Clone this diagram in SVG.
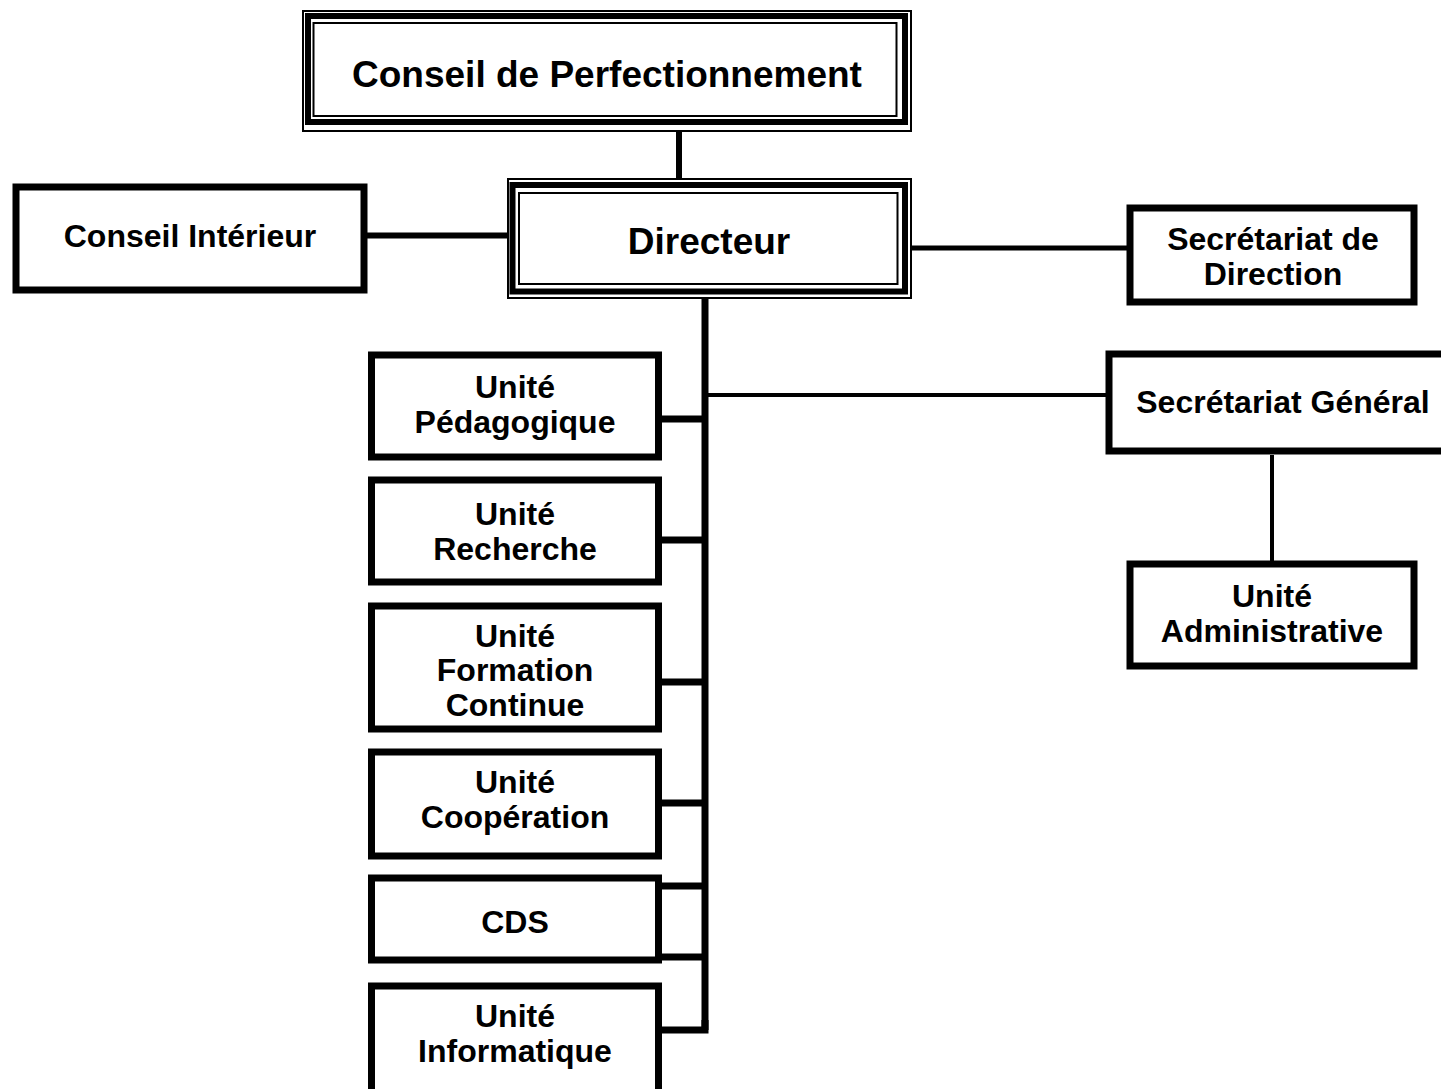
<svg xmlns="http://www.w3.org/2000/svg" width="1441" height="1089" viewBox="0 0 1441 1089">
<style>
text{font-family:"Liberation Sans",Arial,sans-serif;font-weight:bold;fill:#000;text-anchor:middle}
.big{font-size:37px}
.sm{font-size:32px}
.box{fill:#fff;stroke:#000;stroke-width:7}
.thin{fill:none;stroke:#000;stroke-width:2}
.thick{fill:none;stroke:#000;stroke-width:6}
.c{stroke:#000;fill:none;stroke-linecap:butt;stroke-linejoin:miter}
</style>
<rect width="1441" height="1089" fill="#fff"/>
<g id="connectors">
<line class="c" x1="679" y1="131" x2="679" y2="183" stroke-width="6"/>
<line class="c" x1="364" y1="235.5" x2="508" y2="235.5" stroke-width="6"/>
<line class="c" x1="911" y1="248" x2="1130" y2="248" stroke-width="5"/>
<line class="c" x1="705" y1="298" x2="705" y2="1030" stroke-width="7"/>
<line class="c" x1="705" y1="395" x2="1109" y2="395" stroke-width="4"/>
<line class="c" x1="658" y1="419" x2="705" y2="419" stroke-width="7"/>
<line class="c" x1="658" y1="540" x2="705" y2="540" stroke-width="7"/>
<line class="c" x1="658" y1="682" x2="705" y2="682" stroke-width="7"/>
<line class="c" x1="658" y1="803" x2="705" y2="803" stroke-width="7"/>
<line class="c" x1="658" y1="886" x2="705" y2="886" stroke-width="7"/>
<line class="c" x1="658" y1="957" x2="705" y2="957" stroke-width="7"/>
<path class="c" d="M658 1030 H705 V1020" stroke-width="7"/>
<line class="c" x1="1272" y1="455" x2="1272" y2="564" stroke-width="4"/>
</g>
<g id="conseil-perfectionnement">
<rect x="303" y="11" width="608" height="120" fill="#fff" stroke="#000" stroke-width="2"/>
<rect class="thick" x="308" y="16" width="597" height="106"/>
<rect class="thin" x="313.5" y="23" width="583" height="93"/>
<text class="big" x="607" y="87">Conseil de Perfectionnement</text>
</g>
<g id="directeur">
<rect x="508" y="179" width="403" height="119" fill="#fff" stroke="#000" stroke-width="2"/>
<rect class="thick" x="512.5" y="185" width="392.5" height="106.5"/>
<rect class="thin" x="519" y="193" width="378.5" height="91"/>
<text class="big" x="709" y="254">Directeur</text>
</g>
<g id="conseil-interieur">
<rect class="box" x="16" y="187" width="348" height="103" stroke-width="8"/>
<text class="sm" x="190" y="247">Conseil Intérieur</text>
</g>
<g id="secretariat-direction">
<rect class="box" x="1130" y="208" width="284" height="94"/>
<text class="sm" x="1273" y="250">Secrétariat de</text>
<text class="sm" x="1273" y="285">Direction</text>
</g>
<g id="secretariat-general">
<rect class="box" x="1109" y="354" width="348" height="97" stroke-width="8"/>
<text class="sm" x="1283" y="413">Secrétariat Général</text>
</g>
<g id="unite-administrative">
<rect class="box" x="1130" y="564" width="284" height="102"/>
<text class="sm" x="1272" y="607">Unité</text>
<text class="sm" x="1272" y="642">Administrative</text>
</g>
<g id="unite-pedagogique">
<rect class="box" x="371.5" y="355" width="287" height="102"/>
<text class="sm" x="515" y="398">Unité</text>
<text class="sm" x="515" y="433">Pédagogique</text>
</g>
<g id="unite-recherche">
<rect class="box" x="371.5" y="480" width="287" height="102"/>
<text class="sm" x="515" y="525">Unité</text>
<text class="sm" x="515" y="560">Recherche</text>
</g>
<g id="unite-formation-continue">
<rect class="box" x="371.5" y="606" width="287" height="123"/>
<text class="sm" x="515" y="647">Unité</text>
<text class="sm" x="515" y="681">Formation</text>
<text class="sm" x="515" y="716">Continue</text>
</g>
<g id="unite-cooperation">
<rect class="box" x="371.5" y="752" width="287" height="104"/>
<text class="sm" x="515" y="793">Unité</text>
<text class="sm" x="515" y="828">Coopération</text>
</g>
<g id="cds">
<rect class="box" x="371.5" y="878" width="287" height="82"/>
<text class="sm" x="515" y="933">CDS</text>
</g>
<g id="unite-informatique">
<rect class="box" x="371.5" y="986" width="287" height="110"/>
<text class="sm" x="515" y="1027">Unité</text>
<text class="sm" x="515" y="1062">Informatique</text>
</g>
</svg>
